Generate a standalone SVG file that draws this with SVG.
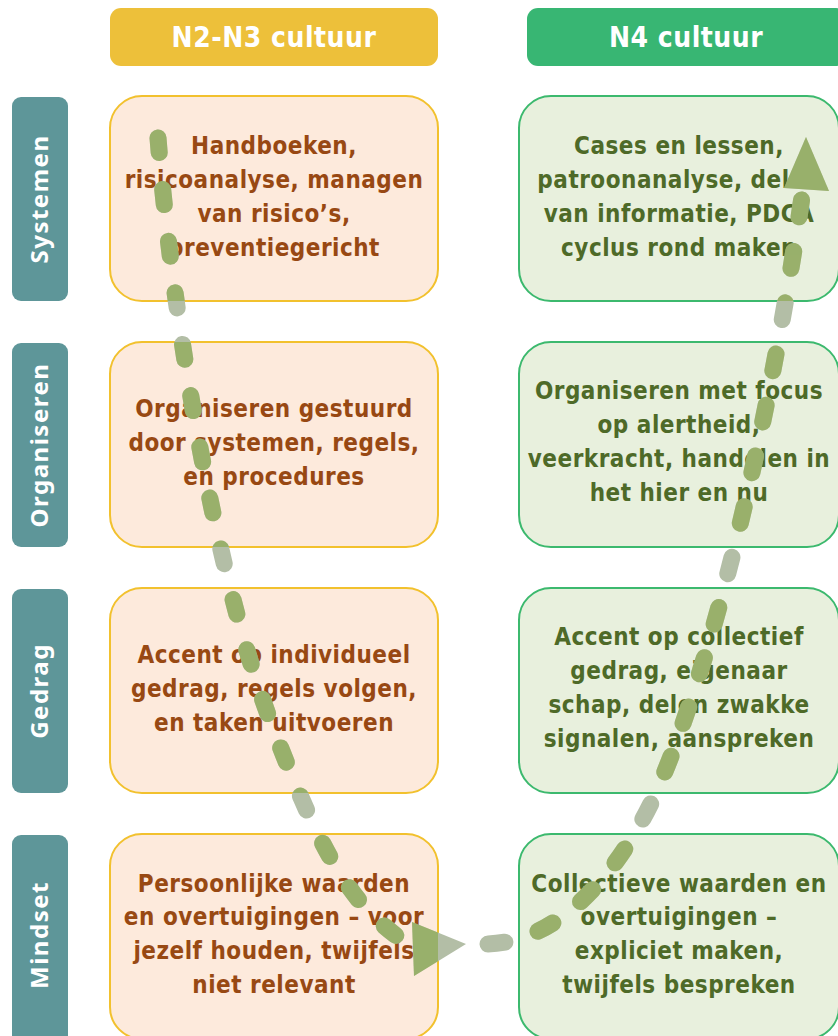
<svg xmlns="http://www.w3.org/2000/svg" xmlns:xlink="http://www.w3.org/1999/xlink" width="838" height="1036" viewBox="0 0 838 1036">
<style>
.hdr{font-family:"DejaVu Sans Condensed","DejaVu Sans","Liberation Sans",sans-serif;font-stretch:condensed;font-weight:bold;font-size:28px;fill:#ffffff;text-anchor:middle;letter-spacing:0.5px}
.side rect{fill:#5E9699}
.side text{font-family:"Noto Sans","Open Sans",sans-serif;font-weight:bold;font-size:24px;fill:#ffffff;text-anchor:middle;letter-spacing:1.5px}
.lbox rect{fill:#FDEADC;stroke:#F2C12E;stroke-width:2}
.rbox rect{fill:#E8F0DD;stroke:#3CB96E;stroke-width:2}
.lbox text,.rbox text{font-family:"DejaVu Sans Condensed","DejaVu Sans","Liberation Sans",sans-serif;font-stretch:condensed;font-weight:bold;font-size:24px;text-anchor:middle;letter-spacing:0.5px}
.lbox text{fill:#984913}
.rbox text{fill:#4E6A28}
</style>
<defs>
<clipPath id="boxclip">
<rect x="110" y="96" width="328" height="205" rx="32"/>
<rect x="110" y="342" width="328" height="205" rx="32"/>
<rect x="110" y="588" width="328" height="205" rx="32"/>
<rect x="110" y="834" width="328" height="205" rx="32"/>
<rect x="519" y="96" width="320" height="205" rx="32"/>
<rect x="519" y="342" width="320" height="205" rx="32"/>
<rect x="519" y="588" width="320" height="205" rx="32"/>
<rect x="519" y="834" width="320" height="205" rx="32"/>
</clipPath>
<g id="flow">
<path d="M 158 138 C 170 290, 210 560, 270 720 S 360 910, 410 946" fill="none" stroke-width="17" stroke-linecap="round" stroke-dasharray="15 37"/>
<path d="M 488 944 C 555 942, 615 880, 655 795 C 715 660, 770 420, 803 190" fill="none" stroke-width="17" stroke-linecap="round" stroke-dasharray="17 35"/>
<polygon points="412,922 414,976 466,944" stroke="none"/>
<polygon points="806,137 784,188 829,191" stroke="none"/>
</g>
</defs>
<rect width="838" height="1036" fill="#ffffff"/>
<g id="header-n2n3">
<rect x="110" y="8" width="328" height="58" rx="11" fill="#EDC03A"/>
<text class="hdr" x="274" y="47">N2-N3 cultuur</text>
</g>
<g id="header-n4">
<rect x="527" y="8" width="320" height="58" rx="11" fill="#38B673"/>
<text class="hdr" x="686" y="47">N4 cultuur</text>
</g>
<g id="side-systemen" class="side">
<rect x="12" y="97" width="56" height="204" rx="9"/>
<text transform="translate(48,199) rotate(-90)">Systemen</text>
</g>
<g id="side-organiseren" class="side">
<rect x="12" y="343" width="56" height="204" rx="9"/>
<text transform="translate(48,445) rotate(-90)">Organiseren</text>
</g>
<g id="side-gedrag" class="side">
<rect x="12" y="589" width="56" height="204" rx="9"/>
<text transform="translate(48,691) rotate(-90)">Gedrag</text>
</g>
<g id="side-mindset" class="side">
<rect x="12" y="835" width="56" height="210" rx="9"/>
<text transform="translate(48,935) rotate(-90)">Mindset</text>
</g>
<g id="n23-systemen" class="lbox">
<rect x="110" y="96" width="328" height="205" rx="32"/>
<text x="274" y="154">Handboeken,</text>
<text x="274" y="188">risicoanalyse, managen</text>
<text x="274" y="222">van risico’s,</text>
<text x="274" y="256">preventiegericht</text>
</g>
<g id="n23-organiseren" class="lbox">
<rect x="110" y="342" width="328" height="205" rx="32"/>
<text x="274" y="417">Organiseren gestuurd</text>
<text x="274" y="451">door systemen, regels,</text>
<text x="274" y="485">en procedures</text>
</g>
<g id="n23-gedrag" class="lbox">
<rect x="110" y="588" width="328" height="205" rx="32"/>
<text x="274" y="663">Accent op individueel</text>
<text x="274" y="697">gedrag, regels volgen,</text>
<text x="274" y="731">en taken uitvoeren</text>
</g>
<g id="n23-mindset" class="lbox">
<rect x="110" y="834" width="328" height="205" rx="32"/>
<text x="274" y="892">Persoonlijke waarden</text>
<text x="274" y="925">en overtuigingen – voor</text>
<text x="274" y="959">jezelf houden, twijfels</text>
<text x="274" y="993">niet relevant</text>
</g>
<g id="n4-systemen" class="rbox">
<rect x="519" y="96" width="320" height="205" rx="32"/>
<text x="679" y="154">Cases en lessen,</text>
<text x="679" y="188">patroonanalyse, delen</text>
<text x="679" y="222">van informatie, PDCA</text>
<text x="679" y="256">cyclus rond maken</text>
</g>
<g id="n4-organiseren" class="rbox">
<rect x="519" y="342" width="320" height="205" rx="32"/>
<text x="679" y="399">Organiseren met focus</text>
<text x="679" y="433">op alertheid,</text>
<text x="679" y="467">veerkracht, handelen in</text>
<text x="679" y="501">het hier en nu</text>
</g>
<g id="n4-gedrag" class="rbox">
<rect x="519" y="588" width="320" height="205" rx="32"/>
<text x="679" y="645">Accent op collectief</text>
<text x="679" y="679">gedrag, eigenaar</text>
<text x="679" y="713">schap, delen zwakke</text>
<text x="679" y="747">signalen, aanspreken</text>
</g>
<g id="n4-mindset" class="rbox">
<rect x="519" y="834" width="320" height="205" rx="32"/>
<text x="679" y="892">Collectieve waarden en</text>
<text x="679" y="925">overtuigingen –</text>
<text x="679" y="959">expliciet maken,</text>
<text x="679" y="993">twijfels bespreken</text>
</g>
<g id="connectors">
<use xlink:href="#flow" href="#flow" stroke="#B3BEA6" fill="#B3BEA6"/>
<g clip-path="url(#boxclip)">
<use xlink:href="#flow" href="#flow" stroke="#86A540" fill="#86A540" opacity="0.58"/>
</g>
</g>
</svg>
